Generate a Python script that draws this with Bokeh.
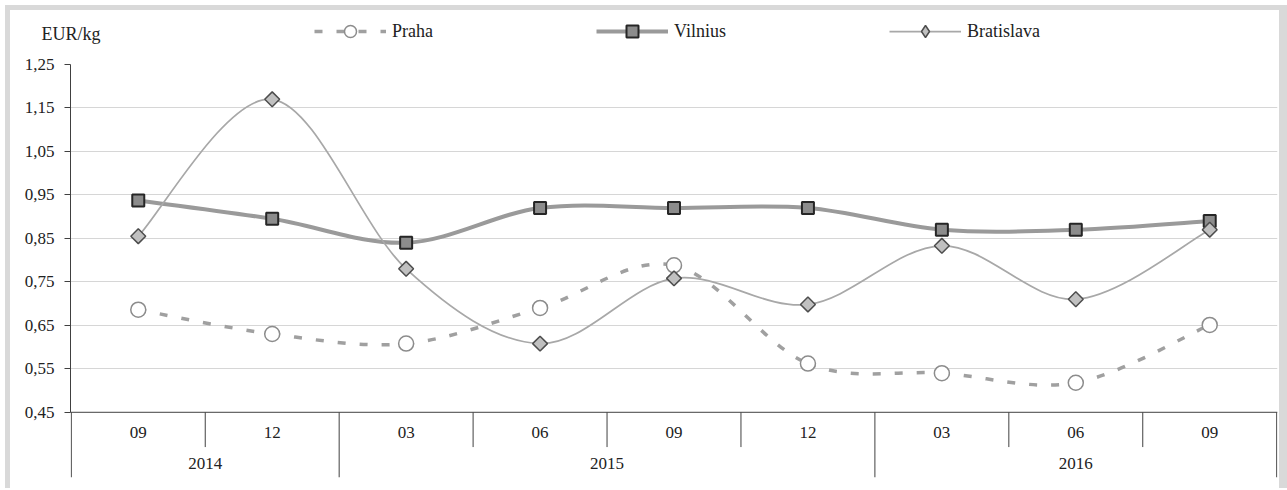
import numpy as np
from bokeh.plotting import figure
from bokeh.layouts import column
from bokeh.models import (Range1d, FixedTicker, CustomJSTickFormatter, Span, Legend,
                          LegendItem, LinearAxis, ColumnDataSource)
from bokeh.core.properties import value
from bokeh.embed import file_html
from bokeh.resources import INLINE

# ---- data ----
months = ["09", "12", "03", "06", "09", "12", "03", "06", "09"]
years = ["2014", "2014", "2015", "2015", "2015", "2015", "2016", "2016", "2016"]
praha = [0.686, 0.630, 0.608, 0.690, 0.788, 0.562, 0.540, 0.518, 0.651]
vilnius = [0.937, 0.895, 0.840, 0.920, 0.920, 0.920, 0.870, 0.870, 0.890]
bratislava = [0.855, 1.170, 0.780, 0.608, 0.758, 0.698, 0.833, 0.710, 0.870]
y_ticks = [0.45, 0.55, 0.65, 0.75, 0.85, 0.95, 1.05, 1.15, 1.25]
unit_label = "EUR/kg"

FONT = "Liberation Serif"
TXT = "#222222"
FS = "17px"
BORDER = "#d9d9d9"

n = len(months)
xs = [i + 0.5 for i in range(n)]
W = 1269

# ---------- main chart ----------
p = figure(width=W, height=432, output_backend="svg", toolbar_location=None,
           x_range=Range1d(-0.006, n + 0.006), y_range=Range1d(0.30, 1.25),
           x_axis_location=None,
           min_border_left=60, min_border_right=2, min_border_top=8, min_border_bottom=11)
p.outline_line_color = None
p.background_fill_color = "white"
p.border_fill_color = "white"

ya = p.yaxis[0]
ya.ticker = FixedTicker(ticks=y_ticks)
ya.formatter = CustomJSTickFormatter(code="return tick.toFixed(2).replace('.', ',');")
ya.bounds = (y_ticks[0], y_ticks[-1])
ya.axis_line_color = "#404040"
ya.major_tick_line_color = "#404040"
ya.major_tick_out = 6
ya.major_tick_in = 0
ya.minor_tick_out = 0
ya.minor_tick_in = 0
ya.major_label_standoff = 10
ya.major_label_text_font = FONT
ya.major_label_text_font_size = FS
ya.major_label_text_color = TXT

p.xgrid.visible = False
p.ygrid.ticker = FixedTicker(ticks=y_ticks[1:])
p.ygrid.grid_line_color = "#d6d6d6"
p.ygrid.grid_line_width = 1

# x axis line, category separators and labels
p.add_layout(Span(location=y_ticks[0], dimension="width", line_color="#404040", line_width=1))
bx = list(range(n + 1))
b_end = []
for i in bx:
    long_ = i == 0 or i == n or years[i] != years[i - 1]
    b_end.append(0.30 if long_ else 0.37)
p.segment(x0=bx, y0=[y_ticks[0]] * len(bx), x1=bx, y1=b_end, line_color="#404040", line_width=1)
p.text(x=xs, y=[0.404] * n, text=months, text_align="center", text_baseline="middle",
       text_font=value(FONT), text_font_size=FS, text_color=TXT)
uy = []
for y in years:
    if y not in uy:
        uy.append(y)
yc = [float(np.mean([xs[i] for i in range(n) if years[i] == y])) for y in uy]
p.text(x=yc, y=[0.333] * len(uy), text=uy, text_align="center", text_baseline="middle",
       text_font=value(FONT), text_font_size=FS, text_color=TXT)


def smooth(xv, yv, t=1.0 / 6.0):
    m = len(xv)
    d = dict(x0=[], y0=[], x1=[], y1=[], cx0=[], cy0=[], cx1=[], cy1=[])
    for i in range(m - 1):
        a = i - 1 if i > 0 else i
        b = i + 2 if i + 2 < m else i + 1
        d["x0"].append(xv[i]); d["y0"].append(yv[i])
        d["x1"].append(xv[i + 1]); d["y1"].append(yv[i + 1])
        d["cx0"].append(xv[i] + (xv[i + 1] - xv[a]) * t)
        d["cy0"].append(yv[i] + (yv[i + 1] - yv[a]) * t)
        d["cx1"].append(xv[i + 1] - (xv[b] - xv[i]) * t)
        d["cy1"].append(yv[i + 1] - (yv[b] - yv[i]) * t)
    return ColumnDataSource(d)


styles = {
    "Praha": dict(data=praha, lc="#a0a0a0", lw=3.5, dash="8 14",
                  marker="circle", size=15, fc="white", mc="#8c8c8c", mw=1.5, angle=0,
                  lmarker="circle", lsize=12),
    "Vilnius": dict(data=vilnius, lc="#9a9a9a", lw=4, dash="solid",
                    marker="square", size=12, fc="#8c8c8c", mc="#262626", mw=2, angle=0,
                    lmarker="square", lsize=12),
    "Bratislava": dict(data=bratislava, lc="#a8a8a8", lw=1.75, dash="solid",
                       marker="square", size=10.5, fc="#c0c0c0", mc="#4d4d4d", mw=1.5,
                       angle=np.pi / 4, lmarker="diamond", lsize=14),
}

for name, s in styles.items():
    p.bezier(x0="x0", y0="y0", x1="x1", y1="y1", cx0="cx0", cy0="cy0", cx1="cx1", cy1="cy1",
             source=smooth(xs, s["data"]), line_color=s["lc"], line_width=s["lw"], line_dash=s["dash"])
    p.scatter(x=xs, y=s["data"], marker=s["marker"], size=s["size"], angle=s["angle"],
              fill_color=s["fc"], line_color=s["mc"], line_width=s["mw"])

# ---------- header strip: unit label + legend ----------
h = figure(width=W, height=46, output_backend="svg", toolbar_location=None,
           x_range=Range1d(0, 1), y_range=Range1d(0, 1),
           x_axis_location=None, y_axis_location=None,
           min_border_left=0, min_border_right=2, min_border_top=0, min_border_bottom=0)
h.outline_line_color = None
h.grid.visible = False
h.background_fill_color = "white"
h.border_fill_color = "white"

# unit label as a (tick-less) axis title on the left of the header
ua = LinearAxis(ticker=FixedTicker(ticks=[]), axis_label=unit_label,
                axis_label_orientation="horizontal", axis_label_standoff=-30,
                axis_label_text_font=FONT, axis_label_text_font_size="18px",
                axis_label_text_font_style="normal", axis_label_text_color=TXT,
                axis_line_color=None, major_tick_out=0, major_tick_in=0,
                minor_tick_out=0, minor_tick_in=0, major_label_text_font_size="0px")
h.add_layout(ua, "left")

# legend glyphs: representative renderers kept outside the visible range
items = []
for name, s in styles.items():
    ll = h.line(x=[-10, -9], y=[-10, -10], line_color=s["lc"], line_width=s["lw"], line_dash=s["dash"])
    lm = h.scatter(x=[-10], y=[-10], marker=s["lmarker"], size=s["lsize"],
                   fill_color=s["fc"], line_color=s["mc"], line_width=s["mw"])
    items.append(LegendItem(label=name, renderers=[ll, lm]))

legend = Legend(items=items, orientation="horizontal", location=(244, 10),
                glyph_width=72, glyph_height=30, label_standoff=6, spacing=163,
                padding=0, margin=0, border_line_alpha=0, background_fill_alpha=0,
                label_text_font=FONT, label_text_font_size="18px", label_text_color=TXT,
                label_text_baseline="middle")
h.add_layout(legend)

page = column(h, p, spacing=0,
              styles={"margin-left": "5px", "margin-top": "5px",
                      "border-left": f"5px solid {BORDER}",
                      "border-top": f"5px solid {BORDER}",
                      "border-right": f"8px solid {BORDER}"})

open("out.html", "w").write(file_html(page, INLINE))
